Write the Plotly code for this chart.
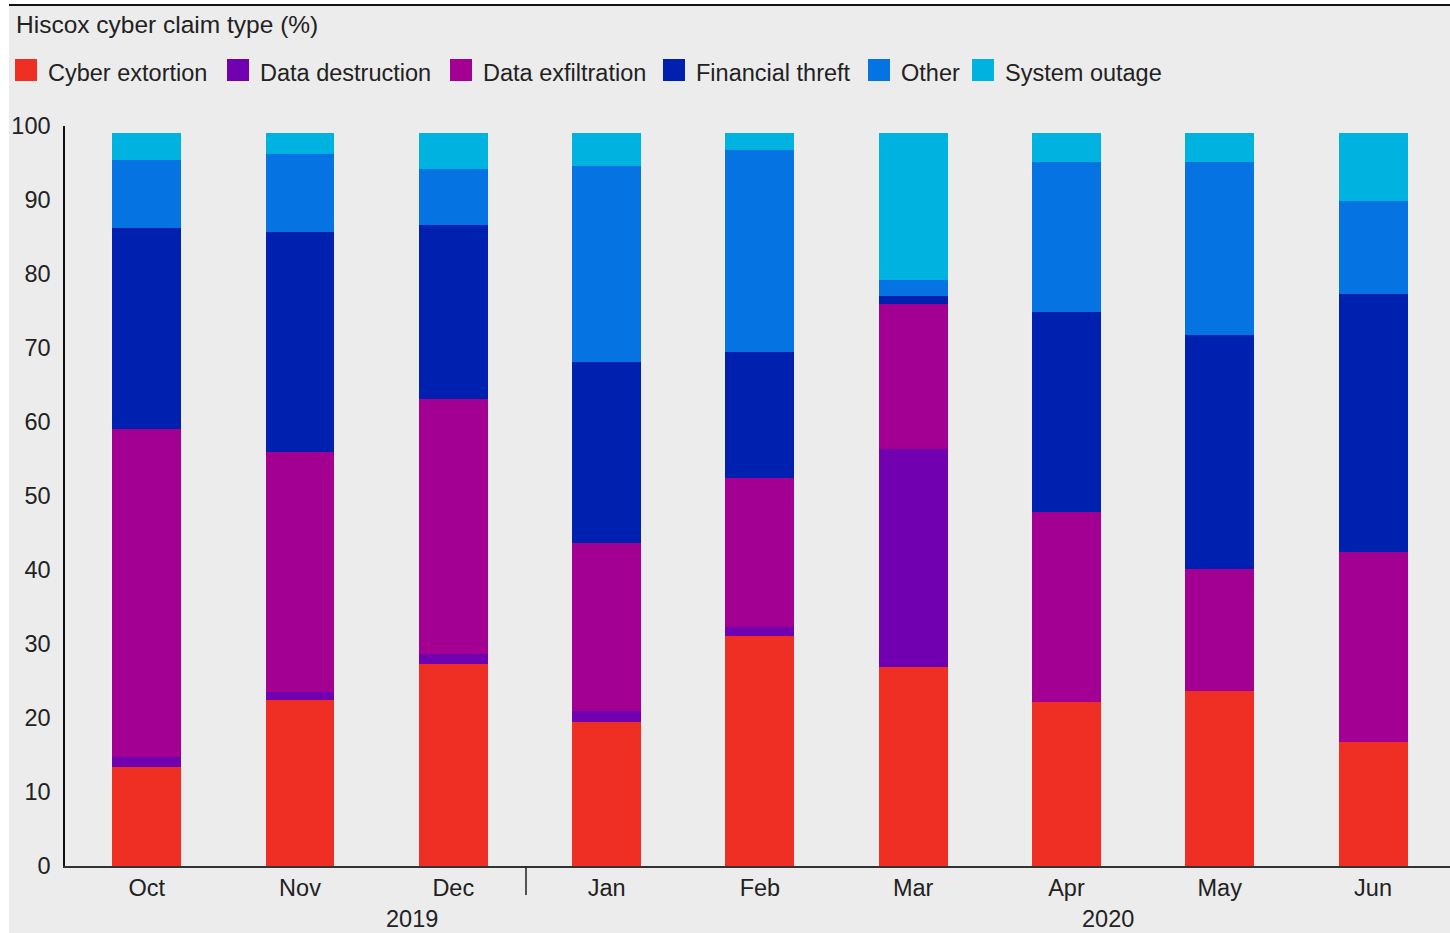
import plotly.graph_objects as go

months = ["Oct", "Nov", "Dec", "Jan", "Feb", "Mar", "Apr", "May", "Jun"]
years = ["2019", "2020"]
series_names = ["Cyber extortion", "Data destruction", "Data exfiltration",
                "Financial threft", "Other", "System outage"]
cyber_extortion = [13.4, 22.5, 27.3, 19.4, 31.1, 26.9, 22.2, 23.7, 16.8]
data_destruction = [1.3, 1.0, 1.4, 1.6, 1.2, 29.4, 0, 0, 0]
data_exfiltration = [44.4, 32.4, 34.4, 22.6, 20.1, 19.7, 25.6, 16.5, 25.6]
financial_threft = [27.1, 29.8, 23.5, 24.5, 17.0, 1.0, 27.0, 31.5, 34.9]
other = [9.2, 10.5, 7.6, 26.5, 27.4, 2.2, 20.3, 23.4, 12.5]
system_outage = [3.6, 2.8, 4.9, 4.5, 2.3, 19.9, 3.9, 3.9, 9.2]
y_ticks = [0, 10, 20, 30, 40, 50, 60, 70, 80, 90, 100]

colors = ["#ef2e24", "#7000b0", "#a30093", "#0021b0", "#0573e1", "#00b2e0"]
values = [cyber_extortion, data_destruction, data_exfiltration,
          financial_threft, other, system_outage]

W, H = 1450, 933
L, R, T, B = 65, 0, 126, 67
PW, PH = W - L - R, H - T - B

def px(x):
    return (x - L) / PW

def py(y):
    return (H - B - y) / PH

FONT = "Liberation Sans, Arial, sans-serif"
TXT = "#222222"
FS = 23.5

fig = go.Figure()
for name, vals, col in zip(series_names, values, colors):
    fig.add_trace(go.Bar(x=months, y=vals, name=name, marker_color=col,
                         marker_line_width=0, showlegend=False))

shapes = [
    # grey panel background
    dict(type="rect", xref="paper", yref="paper", x0=px(9), x1=px(1450),
         y0=py(933), y1=py(5), fillcolor="#ececec", line_width=0, layer="below"),
    # top rule
    dict(type="line", xref="paper", yref="paper", x0=px(9), x1=px(1450),
         y0=py(5), y1=py(5), line=dict(color="#111111", width=2)),
    # year divider
    dict(type="line", xref="paper", yref="paper", x0=px(526), x1=px(526),
         y0=py(866), y1=py(895), line=dict(color="#222222", width=1.5)),
]

annotations = [
    dict(text="Hiscox cyber claim type (%)", xref="paper", yref="paper",
         x=px(14), y=py(24), xanchor="left", yanchor="middle", showarrow=False,
         font=dict(family=FONT, size=24.5, color=TXT)),
    dict(text=years[0], xref="paper", yref="paper", x=px(412), y=py(919),
         xanchor="center", yanchor="middle", showarrow=False,
         font=dict(family=FONT, size=FS, color=TXT)),
    dict(text=years[1], xref="paper", yref="paper", x=px(1108), y=py(919),
         xanchor="center", yanchor="middle", showarrow=False,
         font=dict(family=FONT, size=FS, color=TXT)),
]

legend_x = [15, 227, 450, 663, 868, 972]
for lx, name, col in zip(legend_x, series_names, colors):
    shapes.append(dict(type="rect", xref="paper", yref="paper",
                       x0=px(lx), x1=px(lx + 22), y0=py(81), y1=py(59),
                       fillcolor=col, line_width=0))
    annotations.append(dict(text=name, xref="paper", yref="paper",
                            x=px(lx + 31), y=py(73), xanchor="left", yanchor="middle",
                            showarrow=False, font=dict(family=FONT, size=FS, color=TXT)))

fig.update_layout(
    width=W, height=H,
    margin=dict(l=L, r=R, t=T, b=B, pad=0),
    paper_bgcolor="white", plot_bgcolor="rgba(0,0,0,0)",
    barmode="stack", bargap=0.55,
    font=dict(family=FONT, size=FS, color=TXT),
    shapes=shapes, annotations=annotations,
    xaxis=dict(type="category", range=[-0.533, 8.502], showgrid=False,
               showline=True, linecolor="#333333", linewidth=2,
               ticks="", tickfont=dict(size=FS, color=TXT), ticklabelstandoff=0,
               fixedrange=True),
    yaxis=dict(range=[0, 100], tickvals=y_ticks, showgrid=False, zeroline=False,
               showline=True, linecolor="#111111", linewidth=1.5,
               ticks="", tickfont=dict(size=FS, color=TXT), ticklabelstandoff=8,
               fixedrange=True),
)

fig.write_html("out.html")
